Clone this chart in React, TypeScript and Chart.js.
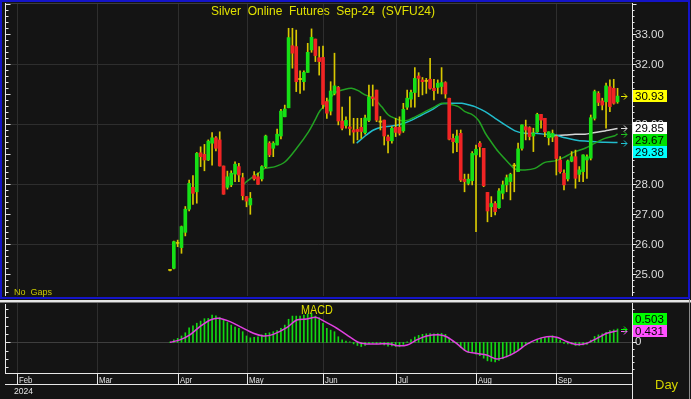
import React, { useEffect, useRef } from 'react';
import { Chart, registerables } from 'chart.js';

Chart.register(...registerables);

// ---------------- data ----------------
const TITLE = 'Silver  Online  Futures  Sep-24  (SVFU24)';
const MONTH_LABELS = ['Feb', 'Mar', 'Apr', 'May', 'Jun', 'Jul', 'Aug', 'Sep'];
const MONTH_AT = [-40, -19, 2, 20, 40, 59, 80, 101]; // bar index where each month starts
const YEAR_LABEL = '2024';
const NO_GAPS = 'No  Gaps';
const MACD_TITLE = 'MACD';
const PERIOD_LABEL = 'Day';

const OPEN = [25.12,25.19,26.04,25.88,26.39,27.16,27.89,27.74,29.04,28.99,
28.80,29.36,29.54,29.47,28.60,27.89,27.97,28.33,28.58,28.21,
27.58,27.30,28.28,28.24,28.17,28.58,29.36,29.19,29.30,29.60,
30.24,30.54,32.61,32.58,31.52,31.41,31.72,32.47,32.83,32.21,
32.22,30.75,30.43,31.02,31.22,30.10,29.95,29.90,29.80,29.82,
29.89,29.71,30.12,30.90,31.13,30.10,30.13,29.57,29.44,29.89,
29.89,29.77,30.56,30.83,31.05,31.60,31.47,31.45,31.49,31.19,
31.22,31.25,31.38,30.86,29.52,29.38,29.69,28.16,28.02,28.11,
28.97,29.36,29.19,27.72,27.24,27.35,27.21,27.69,27.97,28.08,
28.60,28.41,29.19,29.91,29.88,29.60,29.74,30.32,30.19,29.54,
29.56,29.58,28.80,28.36,28.17,28.76,28.91,28.32,28.41,28.80,
28.86,30.19,31.02,30.77,30.74,31.24,31.19,30.74];

const HIGH = [25.14,26.10,26.13,26.60,27.25,28.13,28.28,29.05,29.24,29.32,
29.47,29.71,29.58,29.74,28.60,28.43,28.44,28.74,28.69,28.36,
27.58,27.72,28.41,28.36,28.61,29.63,29.41,29.41,29.83,30.49,
30.63,33.19,33.19,33.13,31.77,31.77,32.69,33.17,32.83,32.58,
32.60,30.86,31.41,32.36,31.25,30.56,30.24,30.91,30.19,30.19,
30.19,30.30,31.30,31.30,31.13,30.25,30.13,29.63,29.91,30.19,
30.24,30.69,31.13,31.13,31.88,31.71,31.55,31.52,32.19,31.49,
31.47,31.88,31.41,30.86,29.66,29.80,29.80,28.33,28.33,29.08,
29.30,29.41,29.19,27.72,27.58,27.41,27.85,28.10,28.30,28.36,
28.69,29.36,29.97,30.13,29.91,29.86,30.36,30.32,30.19,29.74,
29.80,29.63,28.91,28.47,28.80,29.08,29.13,28.58,28.97,28.97,
30.30,31.13,31.08,30.86,31.36,31.47,31.49,31.19];

const LOW = [25.10,25.17,25.91,25.69,26.27,27.10,27.32,27.36,28.58,28.44,
28.78,28.63,29.10,28.60,27.66,27.83,27.91,28.08,28.08,27.47,
27.24,26.99,28.13,27.99,28.10,28.54,28.91,28.91,29.30,29.50,
30.24,30.54,31.86,31.08,31.02,31.13,31.72,32.39,32.08,31.63,
30.52,30.19,30.30,30.97,29.97,29.80,29.86,29.63,29.36,29.47,
29.52,29.66,30.08,30.60,30.08,29.80,29.30,29.04,29.36,29.58,
29.63,29.72,30.49,30.56,30.56,30.91,30.97,31.02,31.16,30.80,
31.02,31.00,30.86,29.47,29.04,29.08,28.08,27.74,27.97,27.97,
26.41,28.90,27.91,26.74,26.91,26.97,27.19,27.50,27.74,27.47,
27.74,28.41,29.13,29.47,29.47,29.08,29.72,29.86,29.58,29.30,
29.41,28.30,28.36,27.80,28.10,28.74,27.86,28.08,28.08,28.19,
28.80,30.13,30.61,30.47,29.86,30.41,30.66,30.69];

const CLOSE = [25.12,26.08,26.02,26.58,27.16,28.02,27.69,29.02,28.91,28.80,
29.43,29.54,29.19,28.60,27.66,28.24,28.36,28.66,28.30,27.61,
27.43,27.52,28.17,27.99,28.58,29.60,28.97,29.36,29.66,30.43,
30.50,32.88,32.36,31.41,31.48,31.72,32.39,32.89,32.28,32.08,
30.65,30.36,31.10,31.27,30.10,29.86,30.12,29.85,29.73,29.75,
29.75,30.20,30.90,30.85,30.13,30.06,29.60,29.44,29.86,29.72,
29.69,30.49,30.86,31.05,31.52,31.52,31.41,31.42,31.19,31.11,
31.36,31.38,31.00,29.49,29.41,29.60,28.13,28.08,28.16,29.02,
29.16,29.24,27.94,27.10,27.35,27.08,27.77,27.97,28.21,28.32,
28.62,29.17,29.97,29.80,29.58,29.70,30.32,30.13,29.74,29.74,
29.69,28.85,28.41,27.97,28.77,28.91,28.19,28.47,28.97,28.91,
30.21,31.08,30.72,30.63,31.27,30.58,30.69,30.93];

const PRICE_LABELS = [25, 26, 27, 28, 29, 30, 31, 32, 33];
const PRICE_GRID = [26, 28, 30, 32];

// moving averages: bar index -> value
const MA_GREEN_AT = [18.9,20.0,21.4,23.1,24.8,27.5,30.1,33.1,36.2,37.9,39.2,41.0,43.1,45.8,47.5,49.2,51.0,53.2,55.3,57.1,58.8,60.6,62.3,64.1,66.7,69.3,71.0,72.8,75.4,77.1,78.8,80.1,81.0,82.4,84.2,85.8,88.4,90.2,92.8,95.4,98.0,100.7,103.3,105.9,108.5,111.1,113.7,116.3,117];
const MA_GREEN = [27.94,28.08,28.21,28.36,28.52,28.58,28.74,29.19,29.74,30.13,30.44,30.69,31.04,31.16,31.19,31.11,30.97,30.86,30.58,30.30,30.19,30.11,30.13,30.24,30.41,30.58,30.69,30.67,30.58,30.41,30.33,30.20,30.05,29.70,29.36,29.08,28.72,28.50,28.47,28.52,28.72,28.77,28.91,29.08,29.19,29.36,29.52,29.61,29.67];
const MA_CYAN_AT = [48.8,51.0,53.2,55.3,58.0,60.6,63.2,65.8,68.4,71.0,73.6,76.3,78.4,79.7,82.4,85.0,87.6,90.2,92.8,95.4,98.0,100.7,103.3,105.9,108.5,111.1,113.7,117];
const MA_CYAN = [29.36,29.60,29.80,29.89,29.93,30.00,30.13,30.30,30.47,30.67,30.69,30.69,30.63,30.58,30.41,30.19,29.97,29.77,29.69,29.69,29.66,29.63,29.54,29.47,29.43,29.41,29.39,29.38];
const MA_WHITE_AT = [98.8,100.7,103.3,105.9,108.5,111.1,113.7,117];
const MA_WHITE = [29.58,29.61,29.63,29.66,29.66,29.72,29.77,29.85];

const LAST_VALUES = [30.93, 29.85, 29.67, 29.38]; // close, white MA, green MA, cyan MA

const MACD = [0.01,0.09,0.15,0.24,0.36,0.55,0.62,0.72,0.80,0.89,
0.90,1.03,1.00,0.94,0.84,0.75,0.65,0.57,0.53,0.40,
0.24,0.17,0.19,0.21,0.28,0.34,0.36,0.40,0.44,0.53,
0.65,0.87,0.99,0.99,0.99,1.03,1.07,1.09,0.99,0.93,
0.72,0.53,0.46,0.40,0.21,0.09,0.05,0.02,-0.06,-0.12,
-0.16,-0.12,-0.05,-0.03,-0.06,-0.06,-0.10,-0.15,-0.14,-0.16,
-0.17,-0.08,0.02,0.10,0.20,0.26,0.30,0.32,0.33,0.32,
0.33,0.34,0.30,0.16,0.04,-0.04,-0.20,-0.30,-0.38,-0.38,
-0.45,-0.50,-0.60,-0.70,-0.72,-0.74,-0.68,-0.62,-0.55,-0.48,
-0.40,-0.30,-0.18,-0.10,-0.04,0.00,0.10,0.16,0.18,0.22,
0.25,0.18,0.08,-0.04,-0.06,-0.07,-0.12,-0.12,-0.10,-0.08,
0.08,0.22,0.28,0.32,0.38,0.44,0.47,0.503];
const SIGNAL_AT = [0,2.6,5.2,7.8,10.5,12.6,15.7,18.3,21.8,24.4,27,30.5,33.1,35.7,38.3,40.5,43.6,46.2,49.2,51.4,54.5,57.5,59.5,62,64.5,67.1,70.6,72.3,74.9,77.6,80.3,82.8,85.4,88,90.6,93.2,95.9,98.5,101.1,103.7,106.3,108.9,111.6,114.2,117];
const SIGNAL = [0,0.09,0.28,0.59,0.84,0.91,0.78,0.59,0.34,0.24,0.30,0.55,0.84,0.88,0.94,0.78,0.53,0.28,0.0,-0.06,-0.06,-0.06,-0.13,-0.10,0.09,0.24,0.28,0.21,-0.04,-0.35,-0.42,-0.48,-0.63,-0.54,-0.35,-0.08,0.11,0.21,0.19,0.03,-0.08,-0.04,0.15,0.34,0.431];
const MACD_LAST = [0.503, 0.431]; // macd, signal

// ---------------- axis ranges ----------------
const X_MIN = -43.14;
const X_MAX = 120.78;
const P_MIN = 24.267;
const P_MAX = 34.033;
const M_MIN = -1.158;
const M_MAX = 1.483;
const M_TICK_R = 0.25;
const M_TICK_L = 0.3125;

// ---------------- styles ----------------
const W = 691;
const TOP_H = 299;
const BOT_H = 100;
const FONT = "'Liberation Sans', Arial, Helvetica, sans-serif";
const BG = '#141414';
const GRID = '#2e2e2e';
const AXIS = '#e8e8e8';
const TEXT = '#dcdcdc';
const TITLE_C = '#e0e000';
const NOGAP_C = '#c8c800';
const UP = '#16e016';
const DOWN = '#f02424';
const WICK = '#d8c800';
const C_GREEN_MA = '#22a222';
const C_CYAN = '#22bccc';
const C_WHITE = '#d6d6d6';
const BOX_COLORS = ['#ffff00', '#ffffff', '#00e000', '#00ffff'];
const ARROW_COLORS = ['#e8e800', '#e0e0e0', '#20c020', '#20c0d0'];
const MACD_BAR = '#12d812';
const MACD_SIG = '#e040e0';
const MACD_BOX = ['#00ff00', '#ff50ff'];
const BORDER_BLUE = '#1414c8';
const LABEL_FONT = '11.5px ' + FONT;

function drawText(ctx: any, text: string, x: number, y: number, font: string, color: string,
  align = 'left', baseline = 'alphabetic', sx = 1) {
  ctx.save();
  ctx.font = font;
  ctx.fillStyle = color;
  ctx.textAlign = align;
  ctx.textBaseline = baseline;
  ctx.translate(x, y);
  ctx.scale(sx, 1);
  ctx.fillText(text, 0, 0);
  ctx.restore();
}

function drawArrow(ctx: any, x: number, y: number, color: string) {
  const yy = Math.round(y) + 0.5;
  ctx.save();
  ctx.strokeStyle = color;
  ctx.lineWidth = 1;
  ctx.beginPath();
  ctx.moveTo(x, yy);
  ctx.lineTo(x + 6, yy);
  ctx.moveTo(x + 3, yy - 3);
  ctx.lineTo(x + 6, yy);
  ctx.lineTo(x + 3, yy + 3);
  ctx.stroke();
  ctx.restore();
}

function vGrid(ctx: any, x: any, ca: any) {
  ctx.beginPath();
  MONTH_AT.forEach((m) => {
    const px = Math.round(x.getPixelForValue(m)) + 0.5;
    ctx.moveTo(px, ca.top);
    ctx.lineTo(px, ca.bottom);
  });
  ctx.stroke();
}

const mainPlugin = {
  id: 'mainPanel',
  beforeDraw(chart: any) {
    const { ctx, width, height } = chart;
    ctx.save();
    ctx.fillStyle = BG;
    ctx.fillRect(0, 0, width, height);
    ctx.restore();
  },
  beforeDatasetsDraw(chart: any) {
    const { ctx, chartArea: ca, scales } = chart;
    ctx.save();
    ctx.strokeStyle = GRID;
    ctx.lineWidth = 1;
    vGrid(ctx, scales.x, ca);
    ctx.beginPath();
    PRICE_GRID.forEach((v) => {
      const py = Math.round(scales.y.getPixelForValue(v)) + 0.5;
      ctx.moveTo(ca.left, py);
      ctx.lineTo(ca.right, py);
    });
    ctx.stroke();
    ctx.restore();
  },
  afterDraw(chart: any) {
    const { ctx, chartArea: ca, scales } = chart;
    const y = scales.y;
    ctx.save();
    ctx.fillStyle = '#3c3c3c';
    ctx.fillRect(ca.left, ca.top, ca.right - ca.left, 1);

    const lx = ca.left + 0.5;
    const rx = ca.right + 0.5;
    ctx.strokeStyle = AXIS;
    ctx.lineWidth = 1;
    ctx.beginPath();
    ctx.moveTo(lx, ca.top);
    ctx.lineTo(lx, ca.bottom);
    ctx.moveTo(rx, ca.top);
    ctx.lineTo(rx, ca.bottom);
    for (let k = Math.ceil(P_MIN * 5); k <= Math.floor(P_MAX * 5); k++) {
      const py = Math.round(y.getPixelForValue(k / 5)) + 0.5;
      const major = k % 5 === 0;
      ctx.moveTo(lx, py);
      ctx.lineTo(lx + (major ? 5 : 3), py);
      ctx.moveTo(rx, py);
      ctx.lineTo(rx + (major ? 4 : 2), py);
    }
    ctx.stroke();

    PRICE_LABELS.forEach((v) => {
      drawText(ctx, v.toFixed(2), ca.right + 3, y.getPixelForValue(v) + 1, LABEL_FONT, TEXT, 'left', 'middle');
    });

    drawText(ctx, TITLE, 323, 15, '12px ' + FONT, TITLE_C, 'center');
    drawText(ctx, NO_GAPS, 14, 295, '9.5px ' + FONT, NOGAP_C, 'left', 'alphabetic', 0.95);

    const order = LAST_VALUES.map((_, i) => i).sort((a, b) => LAST_VALUES[b] - LAST_VALUES[a]);
    let prev = -1e9;
    order.forEach((i) => {
      const vy = y.getPixelForValue(LAST_VALUES[i]);
      drawArrow(ctx, ca.right - 11, vy, ARROW_COLORS[i]);
      const cy = Math.max(vy, prev + 12);
      prev = cy;
      const top = Math.round(cy - 6);
      ctx.fillStyle = BOX_COLORS[i];
      ctx.fillRect(ca.right + 1, top, 34, 12);
      drawText(ctx, LAST_VALUES[i].toFixed(2), ca.right + 3, top + 6.5, LABEL_FONT, '#000000', 'left', 'middle');
    });

    ctx.strokeStyle = BORDER_BLUE;
    ctx.lineWidth = 2;
    ctx.strokeRect(1, 1, chart.width - 3, chart.height - 2);
    ctx.restore();
  },
};

const macdPlugin = {
  id: 'macdPanel',
  beforeDraw(chart: any) {
    const { ctx, width, height } = chart;
    ctx.save();
    ctx.fillStyle = BG;
    ctx.fillRect(0, 0, width, height);
    ctx.restore();
  },
  beforeDatasetsDraw(chart: any) {
    const { ctx, chartArea: ca, scales } = chart;
    ctx.save();
    ctx.strokeStyle = GRID;
    ctx.lineWidth = 1;
    vGrid(ctx, scales.x, ca);
    ctx.strokeStyle = '#3e3e3e';
    ctx.beginPath();
    const zy = Math.round(scales.y.getPixelForValue(0)) + 0.5;
    ctx.moveTo(ca.left, zy);
    ctx.lineTo(ca.right, zy);
    ctx.stroke();
    ctx.restore();
  },
  afterDraw(chart: any) {
    const { ctx, chartArea: ca, scales, width, height } = chart;
    const x = scales.x;
    const y = scales.y;
    ctx.save();
    // separator from the price panel
    ctx.fillStyle = '#e6e6e6';
    ctx.fillRect(0, 1, width, 2);
    ctx.fillStyle = '#7a7a7a';
    ctx.fillRect(0, 3, width, 1);

    const lx = ca.left + 0.5;
    const rx = ca.right + 0.5;
    const dateTop = ca.bottom + 0.5;
    const dateBot = ca.bottom + 11.5;
    ctx.strokeStyle = AXIS;
    ctx.lineWidth = 1;
    ctx.beginPath();
    ctx.moveTo(lx, ca.top + 1);
    ctx.lineTo(lx, ca.bottom);
    ctx.moveTo(rx, 4);
    ctx.lineTo(rx, height);
    for (let k = Math.ceil(M_MIN / M_TICK_R); k <= Math.floor(M_MAX / M_TICK_R); k++) {
      const py = Math.round(y.getPixelForValue(k * M_TICK_R)) + 0.5;
      ctx.moveTo(rx, py);
      ctx.lineTo(rx + (k === 0 ? 4 : 2), py);
    }
    for (let k = Math.ceil(M_MIN / M_TICK_L); k <= Math.floor(M_MAX / M_TICK_L); k++) {
      const py = Math.round(y.getPixelForValue(k * M_TICK_L)) + 0.5;
      ctx.moveTo(lx, py);
      ctx.lineTo(lx + (k === 0 ? 5 : 3), py);
    }
    ctx.moveTo(ca.left, dateTop);
    ctx.lineTo(ca.right + 1, dateTop);
    ctx.moveTo(ca.left, dateBot);
    ctx.lineTo(ca.right + 1, dateBot);
    MONTH_AT.forEach((m) => {
      const px = Math.round(x.getPixelForValue(m)) + 0.5;
      ctx.moveTo(px, dateTop);
      ctx.lineTo(px, dateBot);
    });
    ctx.stroke();

    MONTH_AT.forEach((m, i) => {
      const px = Math.round(x.getPixelForValue(m));
      drawText(ctx, MONTH_LABELS[i], px + 2, ca.bottom + 10, '9.5px ' + FONT, '#e4e4e4', 'left', 'alphabetic', 0.82);
    });
    drawText(ctx, YEAR_LABEL, 14, ca.bottom + 21, '9.5px ' + FONT, '#e4e4e4', 'left', 'alphabetic', 0.9);
    drawText(ctx, PERIOD_LABEL, 655, ca.bottom + 16, '13px ' + FONT, '#d4d400');
    drawText(ctx, MACD_TITLE, 317, 12, '12px ' + FONT, TITLE_C, 'center', 'middle', 0.9);

    drawText(ctx, '0', ca.right + 3, y.getPixelForValue(0), LABEL_FONT, TEXT, 'left', 'middle');
    const ord = MACD_LAST.map((_, i) => i).sort((a, b) => MACD_LAST[a] - MACD_LAST[b]);
    let prev = 1e9;
    ord.forEach((i) => {
      const vy = y.getPixelForValue(MACD_LAST[i]);
      drawArrow(ctx, ca.right - 11, vy, MACD_BOX[i]);
      const cy = Math.min(vy, prev - 12);
      prev = cy;
      const top = Math.round(cy - 6);
      ctx.fillStyle = MACD_BOX[i];
      ctx.fillRect(ca.right + 1, top, 34, 12);
      drawText(ctx, MACD_LAST[i].toFixed(3), ca.right + 3, top + 6.5, LABEL_FONT, '#000000', 'left', 'middle');
    });

    ctx.fillStyle = '#8a8a8a';
    ctx.fillRect(width - 2, 0, 1, height);
    ctx.restore();
  },
};

function baseOptions(pad: any, yMin: number, yMax: number) {
  return {
    animation: false,
    responsive: false,
    maintainAspectRatio: false,
    devicePixelRatio: 1,
    events: [],
    layout: { padding: pad },
    plugins: { legend: { display: false }, tooltip: { enabled: false }, title: { display: false } },
    scales: {
      x: { type: 'linear', min: X_MIN, max: X_MAX, display: false, offset: false },
      y: { type: 'linear', min: yMin, max: yMax, display: false },
    },
  };
}

const pts = (xs: number[], ys: number[]) => xs.map((x, i) => ({ x, y: ys[i] }));

export default function App() {
  const topRef = useRef<HTMLCanvasElement>(null);
  const botRef = useRef<HTMLCanvasElement>(null);

  useEffect(() => {
    const idx = CLOSE.map((_, i) => i);
    const bodyColors = CLOSE.map((c, i) =>
      Math.abs(c - OPEN[i]) < 0.045 ? WICK : c >= OPEN[i] ? UP : DOWN);

    const main = new Chart(topRef.current as HTMLCanvasElement, {
      type: 'bar',
      data: {
        datasets: [
          { type: 'line', data: pts(MA_WHITE_AT, MA_WHITE), borderColor: C_WHITE, borderWidth: 1.5, pointRadius: 0, tension: 0.3, order: 5 } as any,
          { type: 'line', data: pts(MA_CYAN_AT, MA_CYAN), borderColor: C_CYAN, borderWidth: 1.5, pointRadius: 0, tension: 0.3, order: 4 } as any,
          { type: 'line', data: pts(MA_GREEN_AT, MA_GREEN), borderColor: C_GREEN_MA, borderWidth: 1.5, pointRadius: 0, tension: 0.3, order: 3 } as any,
          { type: 'bar', data: idx.map((i) => ({ x: i, y: [LOW[i], HIGH[i]] })), backgroundColor: WICK, barThickness: 1, grouped: false, borderWidth: 0, order: 2 } as any,
          { type: 'bar', data: idx.map((i) => ({ x: i, y: [OPEN[i], CLOSE[i]] })), backgroundColor: bodyColors, barThickness: 3, grouped: false, borderWidth: 0, minBarLength: 1, order: 1 } as any,
        ],
      },
      options: baseOptions({ left: 5, right: 59, top: 3, bottom: 3 }, P_MIN, P_MAX) as any,
      plugins: [mainPlugin],
    });

    const macd = new Chart(botRef.current as HTMLCanvasElement, {
      type: 'bar',
      data: {
        datasets: [
          { type: 'line', data: pts(SIGNAL_AT, SIGNAL), borderColor: MACD_SIG, borderWidth: 1.5, pointRadius: 0, tension: 0.3, order: 0 } as any,
          { type: 'bar', data: idx.map((i) => ({ x: i, y: MACD[i] })), backgroundColor: MACD_BAR, barThickness: 1, grouped: false, borderWidth: 0, order: 1 } as any,
        ],
      },
      options: baseOptions({ left: 5, right: 59, top: 4, bottom: 26 }, M_MIN, M_MAX) as any,
      plugins: [macdPlugin],
    });

    return () => {
      main.destroy();
      macd.destroy();
    };
  }, []);

  return (
    <div style={{ position: 'fixed', left: 0, top: 0, width: W, height: TOP_H + BOT_H, background: BG, overflow: 'hidden' }}>
      <canvas ref={topRef} width={W} height={TOP_H}
        style={{ position: 'absolute', left: 0, top: 0, width: W, height: TOP_H }} />
      <canvas ref={botRef} width={W} height={BOT_H}
        style={{ position: 'absolute', left: 0, top: TOP_H, width: W, height: BOT_H }} />
    </div>
  );
}
